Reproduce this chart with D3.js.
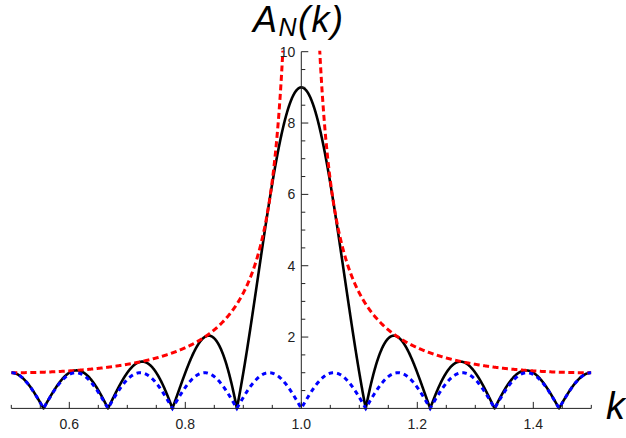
<!DOCTYPE html>
<html>
<head>
<meta charset="utf-8">
<script src="https://cdn.jsdelivr.net/npm/d3@7"></script>
<style>
  html, body { margin: 0; padding: 0; background: #fff; }
  svg { display: block; font-family: "Liberation Sans", Arial, Helvetica, sans-serif; }
</style>
</head>
<body>
<svg id="chart" width="626" height="438"></svg>
<script>
// Grating of N slits: interference pattern, its envelope, and the single-term factor
const slitCount = [9];
const kDomain = [0.5, 1.5];
const yDomain = [0, 10];
const xTickValues = [0.6, 0.8, 1.0, 1.2, 1.4];
const xTickLabels = ["0.6", "0.8", "1.0", "1.2", "1.4"];
const yTickValues = [2, 4, 6, 8, 10];
const yTickLabels = ["2", "4", "6", "8", "10"];
const xMinorStep = [0.05];
const yMinorStep = [0.5];

const N = slitCount[0];

const width = 626, height = 438;
const svg = d3.select("#chart");

const x = d3.scaleLinear().domain(kDomain).range([11.3, 591.3]);
const y = d3.scaleLinear().domain(yDomain).range([408.4, 51.7]);

// Curves
const pattern = k => {
  const s = Math.sin(Math.PI * k);
  if (Math.abs(s) < 1e-12) return N;
  return Math.abs(Math.sin(N * Math.PI * k) / s);
};
const envelope = k => 1 / Math.abs(Math.sin(Math.PI * k));
const factor = k => Math.abs(Math.sin(N * Math.PI * k));

// Sample grid, including the exact zeros so cusps reach the axis
let ks = d3.range(kDomain[0], kDomain[1] + 1e-9, 0.0004);
for (let m = Math.ceil(kDomain[0] * N); m <= Math.floor(kDomain[1] * N); m++) ks.push(m / N);
ks.push(1);
ks = Array.from(new Set(ks.map(v => +v.toFixed(10)))).sort((a, b) => a - b);

svg.append("defs").append("clipPath").attr("id", "plotClip")
  .append("rect")
  .attr("x", x(kDomain[0]))
  .attr("y", y(yDomain[1]) - 1)
  .attr("width", x(kDomain[1]) - x(kDomain[0]))
  .attr("height", y(yDomain[0]) - y(yDomain[1]) + 4);

const plot = svg.append("g").attr("clip-path", "url(#plotClip)");

const line = fn => d3.line()
  .defined(k => isFinite(fn(k)))
  .x(k => x(k))
  .y(k => y(Math.min(fn(k), 12)))(ks);

// Axes (drawn beneath curves)
const axisColor = "#222";
const axes = svg.append("g");

// x axis
axes.append("line")
  .attr("x1", x(kDomain[0])).attr("x2", x(kDomain[1]))
  .attr("y1", y(0)).attr("y2", y(0))
  .attr("stroke", axisColor).attr("stroke-width", 1);

const xMinor = d3.range(kDomain[0], kDomain[1] + 1e-9, xMinorStep[0])
  .filter(v => !xTickValues.some(t => Math.abs(t - v) < 1e-9));
axes.selectAll(".xminor").data(xMinor).enter().append("line")
  .attr("x1", d => x(d)).attr("x2", d => x(d))
  .attr("y1", y(0)).attr("y2", y(0) - 3.5)
  .attr("stroke", axisColor).attr("stroke-width", 1);
axes.selectAll(".xmajor").data(xTickValues).enter().append("line")
  .attr("x1", d => x(d)).attr("x2", d => x(d))
  .attr("y1", y(0)).attr("y2", y(0) - 6.5)
  .attr("stroke", axisColor).attr("stroke-width", 1);
axes.selectAll(".xlabel").data(xTickValues).enter().append("text")
  .attr("x", d => x(d)).attr("y", 429)
  .attr("text-anchor", "middle")
  .attr("font-size", 14).attr("fill", "#222")
  .text((d, i) => xTickLabels[i]);

// y axis at k = 1
const yAxisX = x(1.0);
axes.append("line")
  .attr("x1", yAxisX).attr("x2", yAxisX)
  .attr("y1", y(0)).attr("y2", y(yDomain[1]))
  .attr("stroke", axisColor).attr("stroke-width", 1);

const yMinor = d3.range(yMinorStep[0], yDomain[1], yMinorStep[0])
  .filter(v => !yTickValues.some(t => Math.abs(t - v) < 1e-9));
axes.selectAll(".yminor").data(yMinor).enter().append("line")
  .attr("x1", yAxisX).attr("x2", yAxisX + 4)
  .attr("y1", d => y(d)).attr("y2", d => y(d))
  .attr("stroke", axisColor).attr("stroke-width", 1);
axes.selectAll(".ymajor").data(yTickValues).enter().append("line")
  .attr("x1", yAxisX).attr("x2", yAxisX + 7)
  .attr("y1", d => y(d)).attr("y2", d => y(d))
  .attr("stroke", axisColor).attr("stroke-width", 1);
axes.selectAll(".ylabel").data(yTickValues).enter().append("text")
  .attr("x", yAxisX - 6).attr("y", d => y(d) + 5)
  .attr("text-anchor", "end")
  .attr("font-size", 14).attr("fill", "#222")
  .text((d, i) => yTickLabels[i]);

// Curves
plot.append("path").attr("d", line(pattern))
  .attr("fill", "none").attr("stroke", "#000").attr("stroke-width", 2.6)
  .attr("stroke-linejoin", "round");
plot.append("path").attr("d", line(envelope))
  .attr("fill", "none").attr("stroke", "#ff0000").attr("stroke-width", 3)
  .attr("stroke-dasharray", "6,3.5");
plot.append("path").attr("d", line(factor))
  .attr("fill", "none").attr("stroke", "#0000ff").attr("stroke-width", 3)
  .attr("stroke-dasharray", "4.5,4");

// Axis titles
const title = svg.append("text")
  .attr("x", 253).attr("y", 32)
  .attr("font-size", 36).attr("font-style", "italic").attr("fill", "#000")
  .attr("letter-spacing", 1.5);
title.append("tspan").text("A");
title.append("tspan").attr("font-size", 25).attr("dy", 4).text("N");
title.append("tspan").attr("dy", -4).text("(k)");

svg.append("text")
  .attr("x", 606).attr("y", 419)
  .attr("font-size", 38).attr("font-style", "italic").attr("fill", "#000")
  .text("k");
</script>
</body>
</html>
